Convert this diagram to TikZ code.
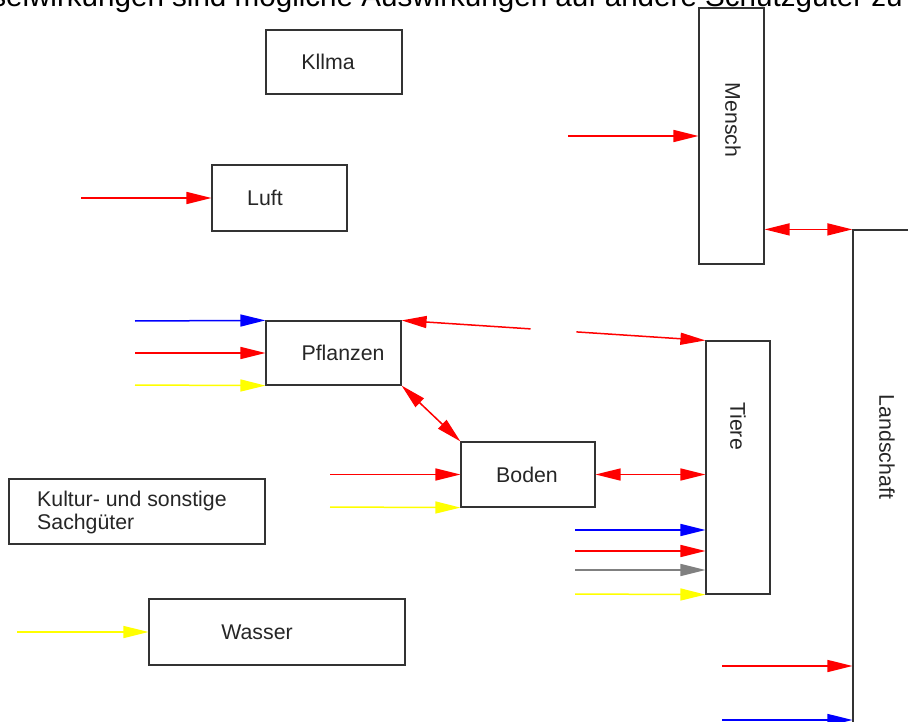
\documentclass[tikz,border=0pt]{standalone}
\usepackage{fontspec}
\setmainfont{Liberation Sans}
\usetikzlibrary{arrows.meta,calc}
\begin{document}
\begin{tikzpicture}[x=1pt,y=-1pt,
  box/.style={draw=black!80,line width=1.2pt,inner sep=0pt,fill=white},
  lbl/.style={font=\fontsize{21.3}{23}\selectfont,inner sep=0pt,text=black!85},
  arr/.style={line width=1.5pt,-{Triangle[length=25pt,width=12pt]}},
  darr/.style={line width=1.5pt,{Triangle[length=25pt,width=12pt]}-{Triangle[length=25pt,width=12pt]}},
  myred/.style={draw={rgb,255:red,255;green,0;blue,0},fill={rgb,255:red,255;green,0;blue,0}},
  myblue/.style={draw={rgb,255:red,0;green,0;blue,255},fill={rgb,255:red,0;green,0;blue,255}},
  myyellow/.style={draw={rgb,255:red,255;green,255;blue,0},fill={rgb,255:red,255;green,255;blue,0}},
  mygray/.style={draw={rgb,255:red,128;green,128;blue,128},fill={rgb,255:red,128;green,128;blue,128}},
]
\useasboundingbox (0,0) rectangle (908,722);
\clip (0,0) rectangle (908,722);

% title (cut off at the top and left)
\node[anchor=base east,inner sep=0pt,font=\fontsize{29.6}{33}\selectfont] (title) at (903,7) {Wechselwirkungen sind mögliche Auswirkungen auf andere Schutzgüter zu};

% boxes
\node[box,minimum width=136pt,minimum height=64pt] (klima) at (334,62) {};
\node[lbl] (klimaT) at (328,62) {Kllma};
\node[box,minimum width=135pt,minimum height=66pt] (luft) at (279.5,198) {};
\node[lbl] (luftT) at (265,198) {Luft};
\node[box,minimum width=135pt,minimum height=64pt] (pfl) at (333.5,353) {};
\node[lbl] (pflT) at (343,353) {Pflanzen};
\node[box,minimum width=134pt,minimum height=65pt] (bod) at (528,474.5) {};
\node[lbl] (bodT) at (527,474.5) {Boden};
\node[box,minimum width=256pt,minimum height=65pt] (kult) at (137,511.5) {};
\node[lbl,anchor=north west,align=left] (kultT) at (37,491) {Kultur- und sonstige\\Sachgüter};
\node[box,minimum width=256pt,minimum height=66pt] (wass) at (277,632) {};
\node[lbl] (wassT) at (257,632) {Wasser};
\node[box,minimum width=65pt,minimum height=256pt] (mensch) at (731.5,136) {};
\node[lbl,rotate=-90] (menschT) at (733,120) {Mensch};
\node[box,minimum width=64pt,minimum height=253pt] (tiere) at (738,467.5) {};
\node[lbl,rotate=-90] (tiereT) at (738,426) {Tiere};
\node[box,minimum width=80pt,minimum height=520pt] (land) at (893,490) {};
\node[lbl,rotate=-90] (landT) at (887,447) {Landschaft};

% free ends
\coordinate (sMensch) at (568,136);
\coordinate (sLuft) at (81,198);
\coordinate (sP1) at (135,321);
\coordinate (sP2) at (135,353);
\coordinate (sP3) at (135,385);
\coordinate (sB1) at (330,474.5);
\coordinate (sB2) at (330,507);
\coordinate (sT1) at (575,530);
\coordinate (sT2) at (575,551);
\coordinate (sT3) at (575,570);
\coordinate (sT4) at (575,594);
\coordinate (sW) at (17,632);
\coordinate (sL1) at (722,666);
\coordinate (sL2) at (722,720);

% input arrows
\draw[arr,myred] (sMensch) -- (sMensch -| mensch.west);
\draw[arr,myred] (sLuft) -- (luft.west);
\draw[arr,myblue] (sP1) -- (pfl.north west);
\draw[arr,myred] (sP2) -- (pfl.west);
\draw[arr,myyellow] (sP3) -- (pfl.south west);
\draw[arr,myred] (sB1) -- (bod.west);
\draw[arr,myyellow] (sB2) -- (bod.south west);
\draw[arr,myblue] (sT1) -- (sT1 -| tiere.west);
\draw[arr,myred] (sT2) -- (sT2 -| tiere.west);
\draw[arr,mygray] (sT3) -- (sT3 -| tiere.west);
\draw[arr,myyellow] (sT4) -- (tiere.south west);
\draw[arr,myyellow] (sW) -- (wass.west);
\draw[arr,myred] (sL1) -- (sL1 -| land.west);
\draw[arr,myblue] (sL2) -- (sL2 -| land.west);

% interactions
\draw[darr,myred] (pfl.north east) -- node[sloped,fill=white,draw=none,inner sep=0pt,minimum width=46pt,minimum height=6pt] (gap) {} (tiere.north west);
\draw[darr,myred] (pfl.south east) -- (bod.north west);
\draw[darr,myred] (bod.east) -- (bod.east -| tiere.west);
\draw[darr,myred] (mensch.east |- land.north) -- (land.north west);
\end{tikzpicture}
\end{document}
